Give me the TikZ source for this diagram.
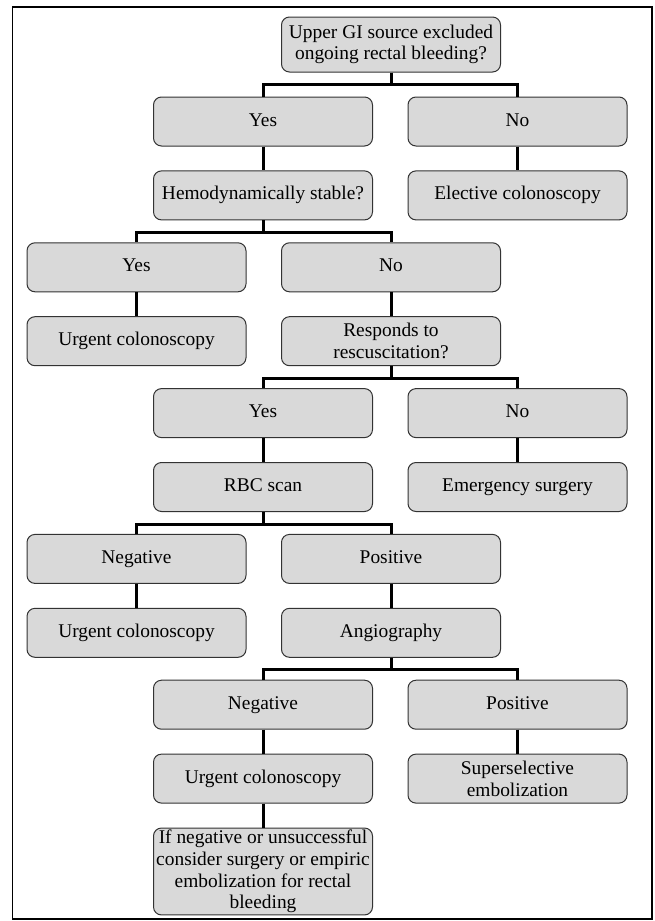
\documentclass[tikz,border=0pt]{standalone}
\usepackage{fontspec}
\setmainfont{Liberation Serif}
\usepackage{tikz}
\usetikzlibrary{positioning}
\tikzstyle{box}=[draw=black!80,fill=black!15,rounded corners=8pt,line width=1pt,minimum width=219pt,minimum height=49pt,inner sep=2pt,align=center,text height=13.5pt,text depth=4.5pt,font=\fontsize{19.4}{21.7}\selectfont]
\tikzstyle{lines}=[text height=,text depth=]
\tikzstyle{link}=[line width=3pt]

\begin{document}
\begin{tikzpicture}[x=1pt,y=-1pt,node distance=23.9pt]
\useasboundingbox (0,0) rectangle (655,921);
\draw [line width=1.5pt] (12.7,7) rectangle (652,919);
\node [box,lines,minimum height=55pt] (upper) at (391,44.5) {Upper GI source excluded\\ongoing rectal bleeding?};
\node [box] (yes1) at (263,121.5) {Yes};
\node [box] (no1) at (517.5,121.5) {No};
\node [box,below=of yes1] (hemo) {Hemodynamically stable?};
\node [box,below=of no1] (elective) {Elective colonoscopy};
\node [box] (yes2) at (136.5,267.3) {Yes};
\node [box] (no2) at (391,267.3) {No};
\node [box,below=of yes2] (urgent1) {Urgent colonoscopy};
\node [box,lines,below=of no2] (responds) {Responds to\\rescuscitation?};
\node [box] (yes3) at (263,413.1) {Yes};
\node [box] (no3) at (517.5,413.1) {No};
\node [box,below=of yes3] (rbc) {RBC scan};
\node [box,below=of no3] (emergency) {Emergency surgery};
\node [box] (neg1) at (136.5,558.9) {Negative};
\node [box] (pos1) at (391,558.9) {Positive};
\node [box,below=of neg1] (urgent2) {Urgent colonoscopy};
\node [box,below=of pos1] (angio) {Angiography};
\node [box] (neg2) at (263,704.7) {Negative};
\node [box] (pos2) at (517.5,704.7) {Positive};
\node [box,below=of neg2] (urgent3) {Urgent colonoscopy};
\node [box,lines,below=of pos2] (embol) {Superselective\\embolization};
\node [box,lines,below=of urgent3] (consider) {If negative or unsuccessful\\consider surgery or empiric\\embolization for rectal\\bleeding};
\foreach \p/\a/\b in {upper/yes1/no1,hemo/yes2/no2,responds/yes3/no3,rbc/neg1/pos1,angio/neg2/pos2}{
  \draw [link] (\p.south) -- ++(0,12) -| (\a.north);
  \draw [link] (\p.south) -- ++(0,12) -| (\b.north);
}
\foreach \a/\b in {yes1/hemo,no1/elective,yes2/urgent1,no2/responds,yes3/rbc,no3/emergency,neg1/urgent2,pos1/angio,neg2/urgent3,pos2/embol,urgent3/consider}
  \draw [link] (\a) -- (\b);
\end{tikzpicture}
\end{document}
